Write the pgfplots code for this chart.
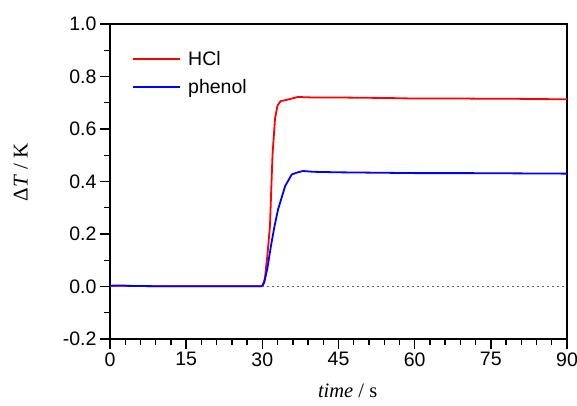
\documentclass[border=0pt]{standalone}
\usepackage{pgfplots}
\pgfplotsset{compat=1.18}
\usepackage{fontspec}
\setmainfont{Liberation Sans}
\newfontfamily\seriffont{Liberation Serif}
\begin{document}
\begin{tikzpicture}
\begin{axis}[
  scale only axis, width=457pt, height=315pt,
  xmin=0, xmax=90, ymin=-0.2, ymax=1.0,
  xtick={0,15,...,90}, minor x tick num=4,
  ytick={-0.2,0,...,1.0}, minor y tick num=1,
  tick align=outside, xtick pos=bottom, ytick pos=left,
  major tick length=10pt, minor tick length=6pt,
  axis line style={line width=1.5pt}, every tick/.style={black, line width=1.4pt},
  /pgf/number format/assume math mode=true,
  tick label style={font=\fontsize{19.5}{22}\selectfont},
  yticklabel style={/pgf/number format/fixed, /pgf/number format/fixed zerofill, /pgf/number format/precision=1},
  xlabel={\seriffont\fontsize{20.5}{24}\selectfont\textit{time} / s},
  ylabel={\seriffont\fontsize{21}{24}\selectfont Δ\textit{T} / K},
  xlabel style={at={(axis description cs:0.52,-0.165)}, anchor=center},
  ylabel style={at={(axis description cs:-0.195,0.53)}, anchor=center},
  legend style={draw=none, fill=none, at={(0.042,0.94)}, anchor=north west, font=\fontsize{19.5}{22}\selectfont},
  legend cell align=left,
  legend image code/.code={\path (0pt,-13pt) (52pt,13pt); \draw[#1] (0pt,0pt) -- (47pt,0pt);},
]
\addplot[red, line width=1.8pt] coordinates {
(0,0.003) (2,0.004) (5,0.002) (10,0.001) (15,0.001) (20,0.001) (25,0.001) (29.5,0.001) (30,0.002)
(30.5,0.03) (31,0.12) (31.5,0.23) (32,0.5) (32.5,0.64) (33,0.69) (33.6,0.706) (35,0.712) (37,0.722)
(40,0.72) (45,0.72) (50,0.719) (55,0.718) (60,0.716) (65,0.716) (70,0.716) (75,0.715) (80,0.715) (85,0.714) (90,0.713)};
\addlegendentry{HCl}
\addplot[blue, line width=1.8pt] coordinates {
(0,0.003) (2,0.003) (5,0.002) (10,0.001) (15,0.001) (20,0.001) (25,0.001) (30,0.001)
(30.4,0.017) (31,0.07) (31.7,0.155) (32.4,0.23) (33.1,0.294) (34.5,0.383) (35.8,0.427) (37,0.435) (38,0.44)
(40,0.437) (45,0.435) (50,0.434) (55,0.433) (60,0.432) (70,0.432) (80,0.431) (90,0.43)};
\addlegendentry{phenol}
\addplot[black!60, line width=1.3pt, dash pattern=on 1.3pt off 3.7pt, forget plot] coordinates {(30,0) (90,0)};
\end{axis}
\pgfresetboundingbox
\path ([shift={(-110pt,-66pt)}]current axis.south west) rectangle ([shift={(10pt,24pt)}]current axis.north east);
\end{tikzpicture}
\end{document}
